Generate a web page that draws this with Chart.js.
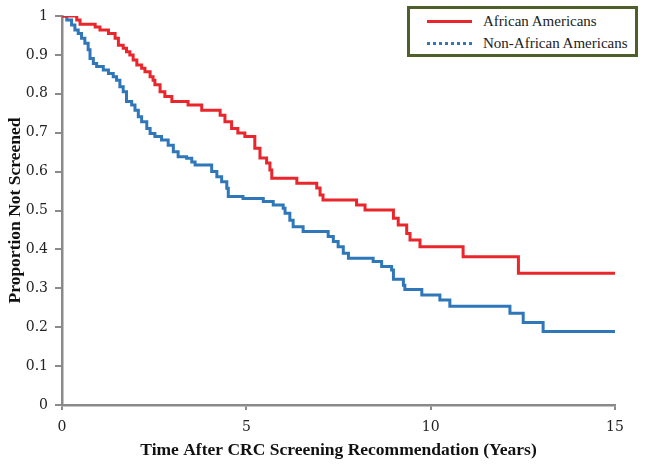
<!DOCTYPE html>
<html>
<head>
<meta charset="utf-8">
<script src="https://cdn.jsdelivr.net/npm/chart.js@4/dist/chart.umd.min.js"></script>
<style>
  html, body { margin: 0; padding: 0; background: #fff; }
  #wrap { position: relative; width: 645px; height: 466px; }
  #legend {
    position: absolute; left: 407px; top: 6px; width: 225px; height: 45px;
    border: 3px solid #4f5f2c; background: #fff;
    font-family: "Liberation Serif", serif; font-size: 15px; color: #222;
  }
  .item { position: absolute; left: 0; height: 18px; line-height: 18px; }
  .item .txt { position: absolute; left: 73px; top: 0; white-space: nowrap; }
  .item .ln { position: absolute; left: 17px; width: 45px; top: 8px; }
</style>
</head>
<body>
<div id="wrap">
  <canvas id="c" width="645" height="466"></canvas>
  <div id="legend">
    <div class="item" style="top:3px"><div class="ln" style="border-top:3px solid #e8262b"></div><span class="txt">African Americans</span></div>
    <div class="item" style="top:25px"><div class="ln" style="border-top:3px dotted #2f77b8"></div><span class="txt">Non-African Americans</span></div>
  </div>
</div>
<script>
const seriesNames = ['African Americans', 'Non-African Americans'];

const aaYears = [0, 0.40, 0.49, 0.90, 1.03, 1.26, 1.44, 1.53, 1.66, 1.75, 1.84, 1.93, 2.03, 2.16, 2.25, 2.39, 2.47, 2.52, 2.66, 2.79, 2.98, 3.42, 3.79, 4.29, 4.42, 4.60, 4.77, 4.96, 5.23, 5.37, 5.55, 5.64, 5.69, 6.37, 6.91, 7.00, 7.08, 7.99, 8.22, 8.99, 9.12, 9.35, 9.44, 9.71, 10.88, 12.38, 15.0];
const aaProp = [1.0, 0.99, 0.979, 0.972, 0.964, 0.955, 0.943, 0.925, 0.917, 0.908, 0.9, 0.887, 0.874, 0.866, 0.857, 0.844, 0.835, 0.823, 0.805, 0.793, 0.78, 0.771, 0.758, 0.745, 0.728, 0.711, 0.699, 0.69, 0.66, 0.635, 0.622, 0.604, 0.583, 0.57, 0.558, 0.54, 0.527, 0.514, 0.501, 0.48, 0.463, 0.441, 0.424, 0.407, 0.381, 0.339, 0.339];

const naaYears = [0, 0.13, 0.26, 0.35, 0.44, 0.53, 0.62, 0.71, 0.76, 0.85, 0.94, 1.12, 1.26, 1.39, 1.48, 1.57, 1.66, 1.75, 1.89, 1.98, 2.07, 2.16, 2.30, 2.39, 2.52, 2.70, 2.88, 3.02, 3.15, 3.38, 3.52, 3.61, 4.06, 4.20, 4.33, 4.47, 4.51, 4.91, 5.46, 5.73, 6.00, 6.05, 6.18, 6.27, 6.54, 7.22, 7.36, 7.49, 7.63, 7.77, 8.44, 8.67, 8.94, 8.99, 9.26, 9.30, 9.76, 10.25, 10.52, 12.15, 12.51, 13.05, 15.0];
const naaProp = [1.0, 0.99, 0.977, 0.964, 0.955, 0.943, 0.93, 0.913, 0.891, 0.878, 0.87, 0.861, 0.852, 0.844, 0.835, 0.818, 0.805, 0.78, 0.771, 0.758, 0.741, 0.728, 0.711, 0.698, 0.69, 0.681, 0.668, 0.651, 0.638, 0.634, 0.625, 0.617, 0.6, 0.587, 0.574, 0.557, 0.536, 0.531, 0.523, 0.514, 0.506, 0.493, 0.475, 0.458, 0.446, 0.433, 0.42, 0.407, 0.39, 0.377, 0.369, 0.356, 0.347, 0.323, 0.308, 0.297, 0.283, 0.27, 0.254, 0.236, 0.212, 0.189, 0.189];

const xTickLabels = ['0', '5', '10', '15'];
const yTickLabels = ['0', '0.1', '0.2', '0.3', '0.4', '0.5', '0.6', '0.7', '0.8', '0.9', '1'];
const xTitle = 'Time After CRC Screening Recommendation (Years)';
const yTitle = 'Proportion Not Screened';

const toPts = (xs, ys) => xs.map((x, i) => ({x: x, y: ys[i]}));
const axisGray = '#8a8a8a';
const tickFont = { family: "'DejaVu Serif', serif", size: 14 };
const titleFont = { family: "'Liberation Serif', serif", size: 17.5, weight: 'bold' };

new Chart(document.getElementById('c'), {
  type: 'line',
  data: {
    datasets: [
      { label: seriesNames[0], data: toPts(aaYears, aaProp), borderColor: '#e8262b', borderWidth: 3, stepped: 'before', pointRadius: 0, fill: false },
      { label: seriesNames[1], data: toPts(naaYears, naaProp), borderColor: '#2f77b8', borderWidth: 3, stepped: 'before', pointRadius: 0, fill: false }
    ]
  },
  options: {
    responsive: false,
    animation: false,
    layout: { padding: { left: 5, right: 30, top: 16, bottom: 5.5 } },
    plugins: { legend: { display: false }, tooltip: { enabled: false } },
    scales: {
      x: {
        type: 'linear', min: 0, max: 15,
        afterFit: s => { s.height = 55.5; },
        ticks: { stepSize: 5, padding: 9, color: '#222', font: tickFont,
                 callback: (v, i) => xTickLabels[i] },
        grid: { drawOnChartArea: false, drawTicks: true, tickLength: 5, color: axisGray, lineWidth: 2 },
        border: { display: true, color: axisGray, width: 2.5 },
        title: { display: true, text: xTitle, color: '#111', padding: 0, font: titleFont }
      },
      y: {
        min: 0, max: 1,
        afterFit: s => { s.width = 57; },
        ticks: { stepSize: 0.1, padding: 7, color: '#222', font: tickFont,
                 callback: (v, i) => yTickLabels[i] },
        grid: { drawOnChartArea: false, drawTicks: true, tickLength: 7, color: axisGray, lineWidth: 2 },
        border: { display: true, color: axisGray, width: 2.5 },
        title: { display: true, text: yTitle, color: '#111', padding: 0, font: titleFont }
      }
    }
  }
});
</script>
</body>
</html>
